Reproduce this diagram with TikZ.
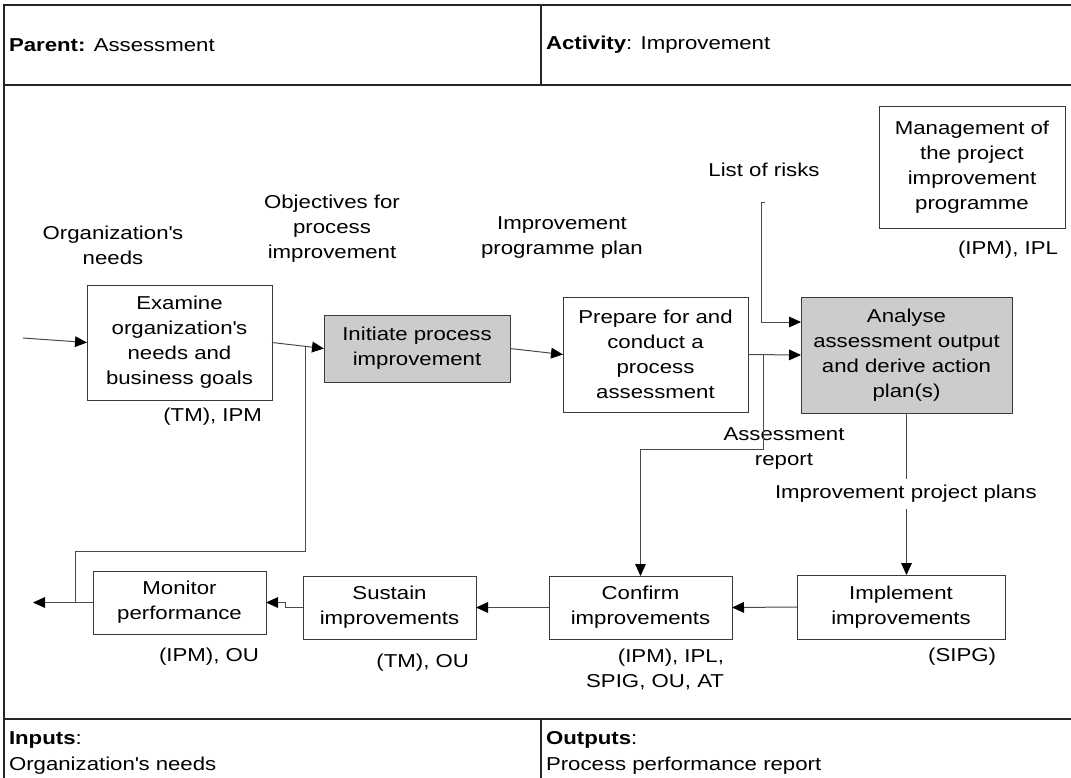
\documentclass[tikz,border=0pt]{standalone}
\usepackage{fontspec}
\setmainfont{Liberation Sans}[FakeStretch=1.19]
\usetikzlibrary{arrows.meta,calc}
\definecolor{boxc}{HTML}{3A3A3A}
\definecolor{linec}{HTML}{4A4A4A}
\definecolor{fillg}{HTML}{CCCCCC}
\begin{document}
\begin{tikzpicture}[x=0.75pt,y=-0.75pt,
 every node/.style={font=\fontsize{14pt}{18.75pt}\selectfont, inner sep=0pt, outer sep=0pt},
 pbox/.style 2 args={draw=boxc, line width=0.75pt, align=center, minimum width=#1*0.75pt, minimum height=#2*0.75pt},
 shaded/.style={fill=fillg},
 lbl/.style={align=center},
 arr/.style={draw=linec, line width=0.75pt, -{Triangle[length=9pt,width=8pt,color=black,fill=black]}},
 conn/.style={draw=linec, line width=0.75pt},
 frame/.style={draw=black!85, line width=1pt}]
\useasboundingbox (0,0) rectangle (1071,778);
% table frame
\draw[frame] (1071,5) -- (4,5) -- (4,778);
\draw[frame] (4,85) -- (1071,85);
\draw[frame] (4,719) -- (1071,719);
\draw[frame] (541,5) -- (541,85);
\draw[frame] (541,719) -- (541,778);
% header / footer texts
\node[anchor=west] (parent) at (9,45) {\textbf{Parent:} Assessment};
\node[anchor=west] (activity) at (546,45) {\textbf{Activity}: Improvement};
\node[anchor=west] (inputs) at (9,740) {\textbf{Inputs}:};
\node[anchor=west] (inputsv) at (9,766) {Organization\textquotesingle s needs};
\node[anchor=west] (outputs) at (546,740) {\textbf{Outputs}:};
\node[anchor=west] (outputsv) at (546,766) {Process performance report};
% boxes
\node[pbox={185}{115}] (examine) at (179.5,342.5) {Examine\\organization\textquotesingle s\\needs and\\business goals};
\node[pbox={186}{67},shaded] (initiate) at (417,348.5) {Initiate process\\improvement};
\node[pbox={185}{115}] (prepare) at (655.5,354.5) {Prepare for and\\conduct a\\process\\assessment};
\node[pbox={211}{116},shaded] (analyse) at (906.5,355) {Analyse\\assessment output\\and derive action\\plan(s)};
\node[pbox={186}{122}] (mgmt) at (972,167) {Management of\\the project\\improvement\\programme};
\node[pbox={208}{64}] (impl) at (901,607) {Implement\\improvements};
\node[pbox={183}{63}] (confirm) at (640.5,607.5) {Confirm\\improvements};
\node[pbox={173}{63}] (sustain) at (389.5,607.5) {Sustain\\improvements};
\node[pbox={173}{63}] (monitor) at (179.5,602.5) {Monitor\\performance};
% role labels
\node[anchor=east] (examinerole) at (262,417) {(TM), IPM};
\node[anchor=east] (monitorrole) at (259,657) {(IPM), OU};
\node[anchor=east] (sustainrole) at (469,663) {(TM), OU};
\node[anchor=east,align=right] (confirmrole) at (724,669) {(IPM), IPL,\\SPIG, OU, AT};
\node[anchor=east] (implrole) at (996,657) {(SIPG)};
\node[anchor=east] (mgmtrole) at (1058,250) {(IPM), IPL};
% flow labels
\node[lbl] (risks) at (764,170) {List of risks};
\node[lbl] (orgneeds) at (113,245) {Organization\textquotesingle s\\needs};
\node[lbl] (objectives) at (332,229) {Objectives for\\process\\improvement};
\node[lbl] (ipp) at (562,238) {Improvement\\programme plan};
\node[lbl] (areport) at (784,449) {Assessment\\report};
% coordinates
\coordinate (in) at (23,338);
\coordinate (out) at (33,602.5);
\coordinate (fb) at ($(monitor.west)!0.3!(out)$);
\coordinate (fbj) at ($(examine.east)!0.635!(initiate.west)$);
\coordinate (arj) at ($(prepare.east)!0.283!(analyse.west)$);
\coordinate (lr) at (761,202);
\coordinate (lrin) at (801,322);
% connectors
\draw[arr] (in) -- (examine.west);
\draw[arr] (examine.east) -- (initiate.west);
\draw[arr] (initiate.east) -- (prepare.west);
\draw[arr] (prepare.east) -- (analyse.west);
\draw[arr] ($(lr)+(4,0)$) -- (lr) |- (lrin);
\draw[arr] (analyse.south) -- (analyse.south |- impl.north);
\draw[arr] (arj) -- ++(0,95) -| (confirm.north);
\draw[arr] (impl.west) -- (confirm.east);
\draw[arr] (confirm.west) -- (sustain.east);
\draw[arr] (sustain.west) -- ++(-18,0) |- (monitor.east);
\draw[arr] (monitor.west) -- (out);
\draw[conn] (fb) -- ++(0,-51.5) -| (fbj);
% label over the Analyse -> Implement line
\node[anchor=west, fill=white, inner ysep=4.5pt, inner xsep=0pt] (ipplans) at (775,494) {Improvement project plans};
\end{tikzpicture}
\end{document}
